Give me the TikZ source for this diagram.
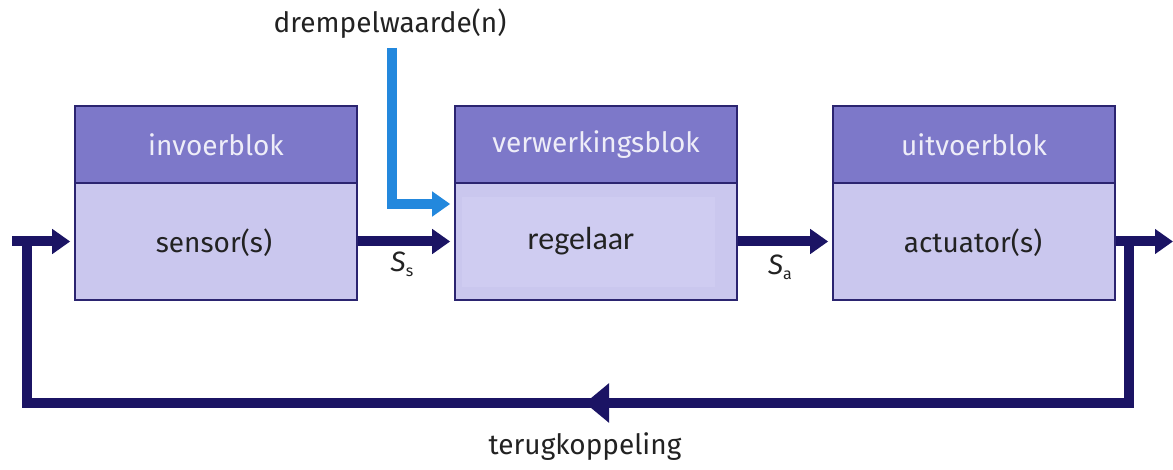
\documentclass[tikz,border=0pt]{standalone}
\usepackage{fontspec}
\setmainfont{Fira Sans}
\newfontfamily\calfont{Carlito}
\usetikzlibrary{arrows.meta,calc}

\definecolor{hdrfill}{HTML}{7D78C9}
\definecolor{bodyfill}{HTML}{CAC7EE}
\definecolor{patchfill}{HTML}{CFCCF1}
\definecolor{edge}{HTML}{2B2470}
\definecolor{navy}{HTML}{1B1464}
\definecolor{skyblue}{HTML}{2388DD}
\definecolor{hdrtext}{HTML}{EEEDF8}
\definecolor{txt}{HTML}{222222}

\tikzset{
  hdr/.style={draw=edge, line width=1.6pt, fill=hdrfill, minimum width=282pt,
    minimum height=77pt, inner sep=0pt, text=hdrtext,
    font=\fontsize{28}{32}\selectfont},
  body/.style={draw=edge, line width=1.6pt, fill=bodyfill, minimum width=282pt,
    minimum height=117pt, inner sep=0pt, text=txt,
    font=\fontsize{28}{32}\selectfont},
  flow/.style={draw=navy, line width=10pt,
    -{Triangle[length=18pt,width=24pt]}},
  setflow/.style={draw=skyblue, line width=10pt,
    -{Triangle[length=18pt,width=24pt]}},
  loop/.style={draw=navy, line width=10pt, line join=miter},
  lbl/.style={text=txt, inner sep=0pt, font=\fontsize{28}{32}\selectfont},
}

\begin{document}
\begin{tikzpicture}[x=1pt,y=-1pt]
\useasboundingbox (0,0) rectangle (1173,470);

% the three blocks: header on top, function below
\node[body] (b1) at (216,241.5) {};
\node[hdr]  (h1) at (216,144.5) {invoerblok};
\node[body] (b2) at (596,241.5) {};
\node[hdr]  (h2) at (596,144.5) {verwerkingsblok};
\node[body] (b3) at (974,241.5) {};
\node[hdr]  (h3) at (974,144.5) {uitvoerblok};

% lighter patch behind the controller text
\fill[patchfill] (462,197) rectangle (715,287);

\node[lbl] (t1) at (214,243) {sensor(s)};
\node[lbl, font=\calfont\fontsize{32}{36}\selectfont] (t2) at (581,241) {regelaar};
\node[lbl] (t3) at (973,243) {actuator(s)};

% setpoint input
\node[lbl] (dw) at (390,24) {drempelwaarde(n)};
\coordinate (dwtop) at (392,48);
\coordinate (dwcorner) at (392,204);
\draw[setflow, shorten >=4pt] (dwtop) -- (dwcorner) -- (dwcorner -| b2.west);

% signal flow through the chain
\draw[flow, shorten >=4pt] (b1.east) -- (b2.west);
\draw[flow, shorten >=4pt] (b2.east) -- (b3.west);
\coordinate (out) at (1173,241.5);
\draw[flow] (b3.east) -- (out);

% feedback loop
\coordinate (fbr) at (1129,241.5);
\coordinate (fbbr) at (1129,403);
\coordinate (fbbl) at (27,403);
\coordinate (fbl) at (27,241.5);
\coordinate (inl) at (12,241.5);
\draw[loop] (fbr) -- (fbbr) -- (fbbl) -- (fbl);
\draw[flow, shorten >=4pt] (inl) -- (b1.west);
\coordinate (fbtail) at (612,403);
\coordinate (fbtip) at (585,403);
\draw[navy, line width=10pt, -{Triangle[length=24pt,width=38pt]}] (fbtail) -- (fbtip);

% signal labels
\node[lbl] (ss) at (402,264) {\textit{S}\raisebox{-0.35ex}{\fontsize{16}{18}\selectfont s}};
\node[lbl] (sa) at (780,267) {\textit{S}\raisebox{-0.35ex}{\fontsize{16}{18}\selectfont a}};
\node[lbl] (tk) at (585,447) {terugkoppeling};
\end{tikzpicture}
\end{document}
